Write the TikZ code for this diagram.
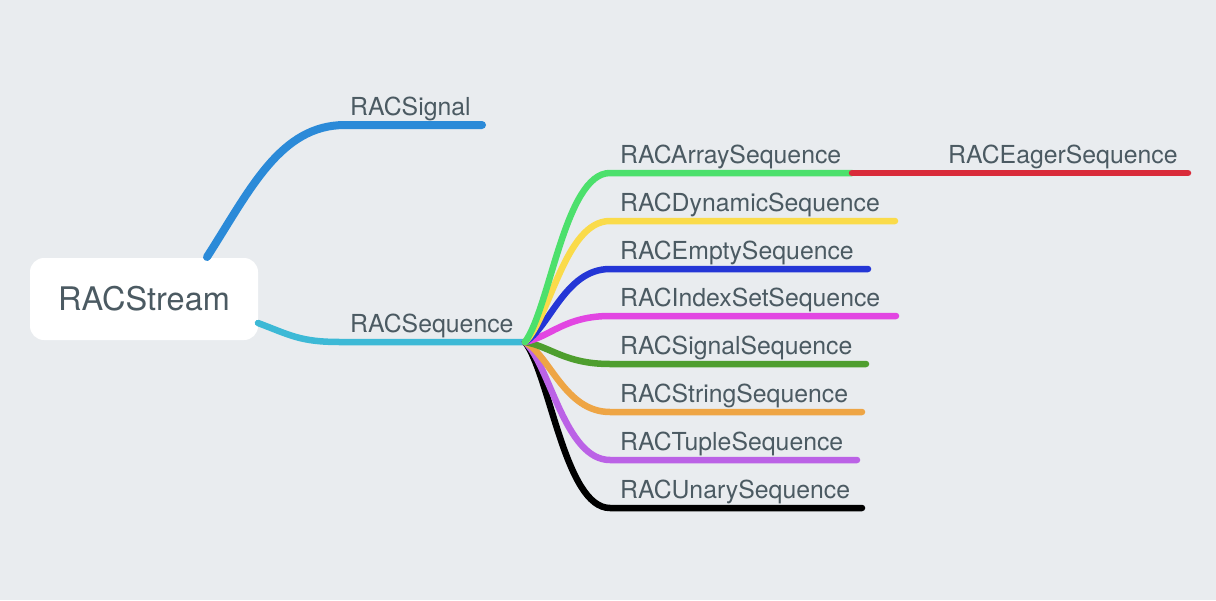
\documentclass[tikz,border=0pt]{standalone}
\usepackage{fontspec}
\setmainfont{TeX Gyre Heros}
\begin{document}
\begin{tikzpicture}[x=1pt,y=-1pt,
  lbl/.style={anchor=base west,inner sep=0pt,text=txt,font=\fontsize{24.8}{29}\selectfont},
  branch/.style={line width=6.5pt,line cap=round},
  rootbox/.style={fill=white,rounded corners=14pt,minimum width=228pt,minimum height=82pt,inner sep=0pt,text=txt,font=\fontsize{32.5}{38}\selectfont}]
\definecolor{bg}{HTML}{E9ECEF}
\definecolor{txt}{HTML}{4B5A62}
\definecolor{cSig}{HTML}{2B8AD8}
\definecolor{cSeq}{HTML}{3DB9D6}
\definecolor{cArr}{HTML}{4CE06C}
\definecolor{cEag}{HTML}{D92B3A}
\definecolor{cDyn}{HTML}{FADB4A}
\definecolor{cEmp}{HTML}{2436D6}
\definecolor{cIdx}{HTML}{E246E2}
\definecolor{cSs}{HTML}{4E9E2E}
\definecolor{cStr}{HTML}{EEA545}
\definecolor{cTup}{HTML}{BB62E6}
\definecolor{cUna}{HTML}{000000}
\fill[bg] (0,0) rectangle (1216,600);
\useasboundingbox (0,0) rectangle (1216,600);

\node[rootbox] (root) at (144,299) {RACStream};

% coordinates
\coordinate (sigA) at (207,257);
\coordinate (sigB) at (345,125);
\coordinate (sigE) at (482,125);
\coordinate (seqA) at (258,323);
\coordinate (seqB) at (340,342);
\coordinate (hub) at (525,342);

% RACSignal
\draw[branch,line width=8pt,cSig] (sigA) .. controls (250,190) and (280,125) .. (sigB) -- (sigE);
\node[lbl] (lsig) at (350,115) {RACSignal};

% RACSequence
\draw[branch,cSeq] (seqA) .. controls (290,335) and (300,342) .. (seqB) -- (hub);
\node[lbl] (lseq) at (350,332) {RACSequence};

% children
\foreach \y/\e/\c/\t/\n in {508/862/cUna/RACUnarySequence/una,
                          460/857/cTup/RACTupleSequence/tup,
                          412/862/cStr/RACStringSequence/str,
                          364/866/cSs/RACSignalSequence/ss,
                          316/896/cIdx/RACIndexSetSequence/idx,
                          269/868/cEmp/RACEmptySequence/emp,
                          221/895/cDyn/RACDynamicSequence/dyn,
                          173/852/cArr/RACArraySequence/arr}{
  \coordinate (s\n) at (610,\y);
  \coordinate (e\n) at (\e,\y);
  \pgfmathsetmacro{\cy}{342+(\y-342)*0.2}
  \draw[branch,\c] (hub) .. controls (550,\cy) and (565,\y) .. (s\n) -- (e\n);
  \node[lbl] (l\n) at (620,\y-10) {\t};
}

% RACEagerSequence
\coordinate (eagE) at (1188,173);
\draw[branch,cEag] (earr) -- (eagE);
\node[lbl] (leag) at (948,163) {RACEagerSequence};
\end{tikzpicture}
\end{document}
